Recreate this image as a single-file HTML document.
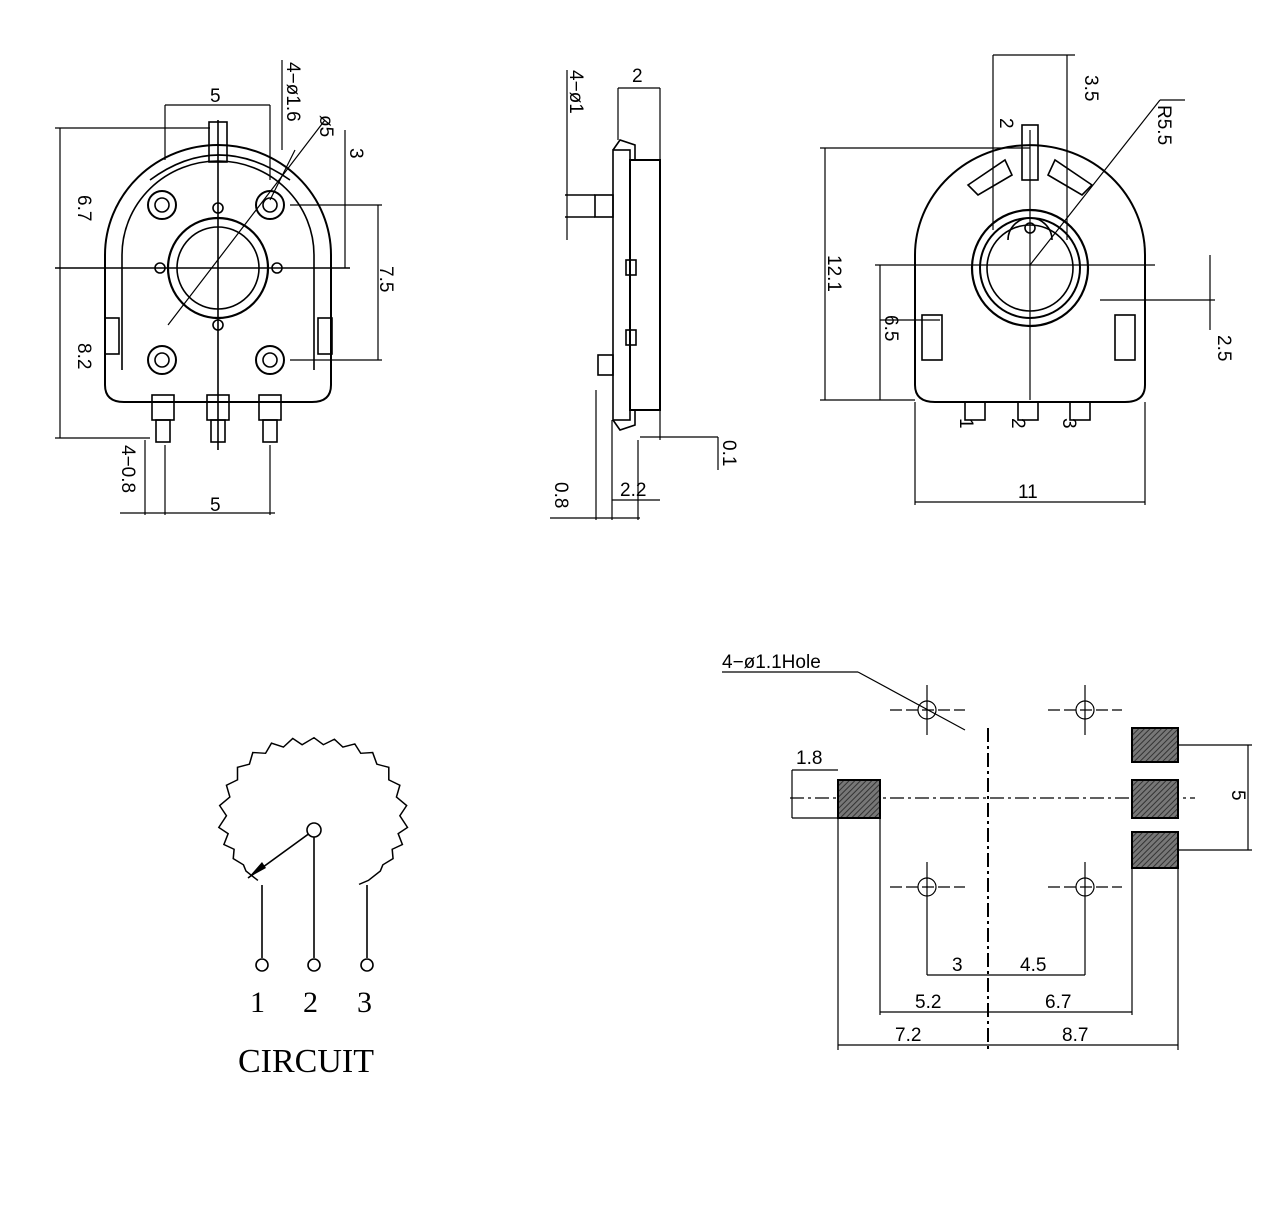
<!DOCTYPE html>
<html><head><meta charset="utf-8"><style>
html,body{margin:0;padding:0;background:#fff;}
svg{display:block;}
text{font-family:"Liberation Sans",sans-serif;fill:#000;}
.s{font-family:"Liberation Serif",serif;}
</style></head><body>
<svg width="1280" height="1208" viewBox="0 0 1280 1208" xmlns="http://www.w3.org/2000/svg">
<defs>
<pattern id="h" width="4" height="4" patternUnits="userSpaceOnUse" patternTransform="rotate(45)">
<rect width="4" height="4" fill="#777"/><line x1="0" y1="0" x2="0" y2="4" stroke="#333" stroke-width="2"/></pattern>
</defs>
<g fill="none" stroke="#000" stroke-width="1.6">
<!-- FRONT VIEW -->
<path d="M105,385 L105,255 A113,110 0 0 1 331,255 L331,385 Q331,402 312,402 L124,402 Q105,402 105,385 Z" stroke-width="2"/>
<path d="M122,370 L122,255 A96,94 0 0 1 314,255 L314,370"/>
<line x1="55" y1="268" x2="350" y2="268"/>
<line x1="218" y1="120" x2="218" y2="450"/>
<circle cx="218" cy="268" r="50" stroke-width="2.2"/>
<circle cx="218" cy="268" r="41"/>
<circle cx="162" cy="205" r="14" stroke-width="2"/><circle cx="162" cy="205" r="7"/>
<circle cx="270" cy="205" r="14" stroke-width="2"/><circle cx="270" cy="205" r="7"/>
<circle cx="162" cy="360" r="14" stroke-width="2"/><circle cx="162" cy="360" r="7"/>
<circle cx="270" cy="360" r="14" stroke-width="2"/><circle cx="270" cy="360" r="7"/>
<circle cx="218" cy="208" r="5"/><circle cx="218" cy="325" r="5"/><circle cx="160" cy="268" r="5"/><circle cx="277" cy="268" r="5"/>
<rect x="105" y="318" width="14" height="36"/><rect x="318" y="318" width="14" height="36"/>
<rect x="209" y="122" width="18" height="40"/>
<path d="M150,180 Q218,130 290,180"/>
<rect x="152" y="395" width="22" height="25"/><rect x="156" y="420" width="14" height="22"/>
<rect x="207" y="395" width="22" height="25"/><rect x="211" y="420" width="14" height="22"/>
<rect x="259" y="395" width="22" height="25"/><rect x="263" y="420" width="14" height="22"/>
<line x1="168" y1="325" x2="325" y2="120" stroke-width="1.2"/>
<line x1="270" y1="200" x2="295" y2="150" stroke-width="1.2"/>
<g stroke-width="1.2">
<line x1="60" y1="128" x2="60" y2="438"/><line x1="55" y1="128" x2="210" y2="128"/><line x1="55" y1="438" x2="150" y2="438"/>
<line x1="165" y1="105" x2="270" y2="105"/><line x1="165" y1="105" x2="165" y2="160"/><line x1="270" y1="105" x2="270" y2="180"/>
<line x1="345" y1="130" x2="345" y2="268"/>
<line x1="378" y1="205" x2="378" y2="360"/><line x1="290" y1="205" x2="382" y2="205"/><line x1="290" y1="360" x2="382" y2="360"/>
<line x1="145" y1="440" x2="145" y2="515"/><line x1="165" y1="445" x2="165" y2="515"/><line x1="270" y1="445" x2="270" y2="515"/>
<line x1="120" y1="513" x2="275" y2="513"/>
<line x1="282" y1="60" x2="282" y2="150"/>
</g>
<!-- SIDE VIEW -->
<rect x="630" y="160" width="30" height="250" stroke-width="2"/>
<rect x="613" y="150" width="17" height="270"/>
<path d="M613,150 L620,140 L635,145 L635,160"/>
<path d="M613,420 L620,430 L635,425 L635,410"/>
<rect x="595" y="195" width="18" height="22"/><line x1="565" y1="195" x2="595" y2="195"/><line x1="565" y1="217" x2="595" y2="217"/>
<rect x="598" y="355" width="15" height="20"/>
<rect x="626" y="260" width="10" height="15"/><rect x="626" y="330" width="10" height="15"/>
<g stroke-width="1.2">
<line x1="567" y1="70" x2="567" y2="240"/>
<line x1="618" y1="88" x2="660" y2="88"/><line x1="618" y1="88" x2="618" y2="140"/><line x1="660" y1="88" x2="660" y2="160"/>
<line x1="612" y1="420" x2="612" y2="520"/><line x1="596" y1="390" x2="596" y2="520"/><line x1="638" y1="440" x2="638" y2="520"/>
<line x1="550" y1="518" x2="640" y2="518"/><line x1="612" y1="500" x2="660" y2="500"/>
<line x1="660" y1="410" x2="660" y2="440"/><line x1="640" y1="437" x2="718" y2="437"/><line x1="718" y1="437" x2="718" y2="470"/>
</g>
<!-- RIGHT VIEW -->
<path d="M915,385 L915,255 A115,110 0 0 1 1145,255 L1145,385 Q1145,402 1125,402 L935,402 Q915,402 915,385 Z" stroke-width="2"/>
<circle cx="1030" cy="268" r="58" stroke-width="2.2"/>
<circle cx="1030" cy="268" r="50" stroke-width="2"/>
<circle cx="1030" cy="268" r="43"/>
<path d="M1008,240 A22,22 0 0 1 1052,240"/>
<circle cx="1030" cy="228" r="5"/>
<rect x="1022" y="125" width="16" height="55"/>
<path d="M968,185 L1005,160 L1012,175 L978,195 Z"/><path d="M1092,185 L1055,160 L1048,175 L1082,195 Z"/>
<rect x="922" y="315" width="20" height="45"/><rect x="1115" y="315" width="20" height="45"/>
<rect x="965" y="402" width="20" height="18"/><rect x="1018" y="402" width="20" height="18"/><rect x="1070" y="402" width="20" height="18"/>
<g stroke-width="1.2">
<line x1="1030" y1="130" x2="1030" y2="400"/>
<line x1="875" y1="265" x2="1155" y2="265"/>
<line x1="820" y1="148" x2="1030" y2="148"/><line x1="825" y1="148" x2="825" y2="400"/><line x1="820" y1="400" x2="915" y2="400"/>
<line x1="880" y1="265" x2="880" y2="400"/>
<line x1="880" y1="320" x2="940" y2="320"/>
<line x1="993" y1="55" x2="993" y2="230"/><line x1="1067" y1="55" x2="1067" y2="240"/><line x1="993" y1="55" x2="1075" y2="55"/>
<line x1="1030" y1="265" x2="1160" y2="100"/><line x1="1160" y1="100" x2="1185" y2="100"/>
<line x1="1210" y1="255" x2="1210" y2="330"/><line x1="1100" y1="300" x2="1215" y2="300"/>
<line x1="915" y1="402" x2="915" y2="505"/><line x1="1145" y1="402" x2="1145" y2="505"/><line x1="915" y1="502" x2="1145" y2="502"/>
</g>
<!-- CIRCUIT -->
<line x1="314" y1="830" x2="248" y2="878"/>
<circle cx="314" cy="830" r="7" fill="#fff"/>
<line x1="262" y1="885" x2="262" y2="958"/><line x1="314" y1="837" x2="314" y2="958"/><line x1="367" y1="885" x2="367" y2="958"/>
<circle cx="262" cy="965" r="6"/><circle cx="314" cy="965" r="6"/><circle cx="367" cy="965" r="6"/>
<!-- PCB -->
<g stroke-width="1.2">
<line x1="988" y1="728" x2="988" y2="1050" stroke-dasharray="14,4,3,4" stroke-width="2"/>
<line x1="790" y1="798" x2="1195" y2="798" stroke-dasharray="14,4,3,4"/>
<line x1="890" y1="710" x2="965" y2="710" stroke-dasharray="12,4"/><line x1="927" y1="685" x2="927" y2="735"/>
<line x1="1048" y1="710" x2="1122" y2="710" stroke-dasharray="12,4"/><line x1="1085" y1="685" x2="1085" y2="735"/>
<line x1="890" y1="887" x2="965" y2="887" stroke-dasharray="12,4"/><line x1="927" y1="862" x2="927" y2="975"/>
<line x1="1048" y1="887" x2="1122" y2="887" stroke-dasharray="12,4"/><line x1="1085" y1="862" x2="1085" y2="975"/>
<circle cx="927" cy="710" r="9"/><circle cx="1085" cy="710" r="9"/><circle cx="927" cy="887" r="9"/><circle cx="1085" cy="887" r="9"/>
<line x1="722" y1="672" x2="858" y2="672"/><line x1="858" y1="672" x2="965" y2="730"/>
<line x1="927" y1="975" x2="1085" y2="975"/>
<line x1="880" y1="818" x2="880" y2="1015"/><line x1="1132" y1="868" x2="1132" y2="1015"/><line x1="880" y1="1012" x2="1132" y2="1012"/>
<line x1="838" y1="818" x2="838" y2="1050"/><line x1="1178" y1="868" x2="1178" y2="1050"/><line x1="838" y1="1045" x2="1178" y2="1045"/>
<line x1="792" y1="770" x2="838" y2="770"/><line x1="792" y1="770" x2="792" y2="818"/><line x1="792" y1="818" x2="838" y2="818"/>
<line x1="1178" y1="745" x2="1252" y2="745"/><line x1="1178" y1="850" x2="1252" y2="850"/><line x1="1248" y1="745" x2="1248" y2="850"/>
</g>
<rect x="838" y="780" width="42" height="38" fill="url(#h)" stroke-width="2"/>
<rect x="1132" y="728" width="46" height="34" fill="url(#h)" stroke-width="2"/>
<rect x="1132" y="780" width="46" height="38" fill="url(#h)" stroke-width="2"/>
<rect x="1132" y="832" width="46" height="36" fill="url(#h)" stroke-width="2"/>
</g>
<polyline transform="translate(314,882) scale(0.85,0.78) translate(-314,-882)" fill="none" stroke="#000" stroke-width="1.8" points="
248,880 234,868 231,860 219,852 220,840 208,834 213,820 202,812 211,797 203,784 215,773 211,758 224,751 224,735 238,731 242,716 257,717 264,704 278,709 289,698 300,706 314,697 325,706 338,699 348,709 362,705 369,717 383,716 388,731 402,735 402,751 415,758 411,773 423,784 415,797 424,812 413,820 418,834 406,840 407,852 395,860 392,868 378,880 367,885"/>
<polygon points="248,878 262,862 266,868" fill="#000"/>
<g font-size="19">
<text transform="translate(78,195) rotate(90)">6.7</text>
<text transform="translate(78,343) rotate(90)">8.2</text>
<text x="210" y="102">5</text>
<text transform="translate(287,62) rotate(90)">4−ø1.6</text>
<text transform="translate(320,115) rotate(90)">ø5</text>
<text transform="translate(350,148) rotate(90)">3</text>
<text transform="translate(380,266) rotate(90)">7.5</text>
<text transform="translate(122,445) rotate(90)">4−0.8</text>
<text x="210" y="511">5</text>
<text transform="translate(570,70) rotate(90)">4−ø1</text>
<text x="632" y="82">2</text>
<text transform="translate(723,440) rotate(90)">0.1</text>
<text x="620" y="496">2.2</text>
<text transform="translate(555,482) rotate(90)">0.8</text>
<text transform="translate(1085,75) rotate(90)">3.5</text>
<text transform="translate(1158,105) rotate(90)">R5.5</text>
<text transform="translate(1000,118) rotate(90)">2</text>
<text transform="translate(828,255) rotate(90)">12.1</text>
<text transform="translate(885,315) rotate(90)">6.5</text>
<text transform="translate(1218,335) rotate(90)">2.5</text>
<text x="1018" y="498">11</text>
<text transform="translate(960,418) rotate(90)">1</text>
<text transform="translate(1012,418) rotate(90)">2</text>
<text transform="translate(1063,418) rotate(90)">3</text>
<text x="722" y="668">4−ø1.1Hole</text>
<text x="796" y="764">1.8</text>
<text transform="translate(1232,790) rotate(90)">5</text>
<text x="952" y="971">3</text>
<text x="1020" y="971">4.5</text>
<text x="915" y="1008">5.2</text>
<text x="1045" y="1008">6.7</text>
<text x="895" y="1041">7.2</text>
<text x="1062" y="1041">8.7</text>
</g>
<g class="s" font-size="30">
<text class="s" x="250" y="1012">1</text><text class="s" x="303" y="1012">2</text><text class="s" x="357" y="1012">3</text>
<text class="s" x="238" y="1072" font-size="34">CIRCUIT</text>
</g>
</svg>
</body></html>
